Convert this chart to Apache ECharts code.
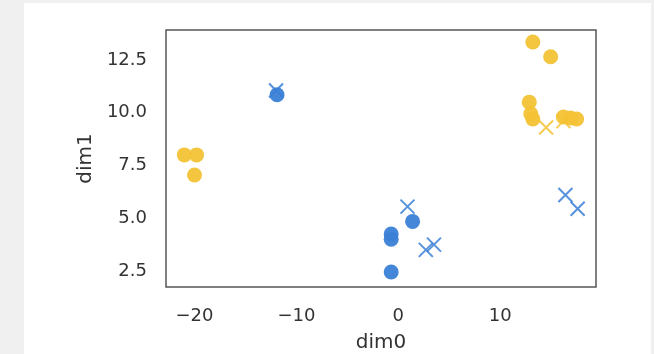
<!DOCTYPE html>
<html><head><meta charset="utf-8">
<script src="https://cdn.jsdelivr.net/npm/echarts@6/dist/echarts.min.js"></script>
<style>html,body{margin:0;padding:0;background:#f0f0f0;}#c{width:654px;height:354px;}</style>
</head><body><div id="c"></div>
<script>
var xTicks = [-20, -10, 0, 10];
var yTicks = [2.5, 5.0, 7.5, 10.0, 12.5];
var yellowCircles = [[-21.0,8.0],[-19.8,8.0],[-20.0,7.05],[13.2,13.35],[14.95,12.65],[12.85,10.5],[13.0,9.95],[13.2,9.7],[16.2,9.8],[16.9,9.75],[17.5,9.7]];
var yellowCrosses = [[14.5,9.3],[16.2,9.6]];
var blueCircles = [[-11.9,10.85],[-0.7,4.25],[-0.7,4.0],[-0.7,2.45],[1.4,4.85]];
var blueCrosses = [[-12.0,11.05],[0.9,5.55],[2.7,3.5],[3.5,3.75],[16.4,6.1],[17.6,5.45]];

var BLUE = '#3a7fd6', YELLOW = '#f3c234';
var FONT = 'DejaVu Sans';
var cross = 'path://M0,0L10,10M10,0L0,10';
var chart = echarts.init(document.getElementById('c'), null, {renderer:'canvas'});
chart.setOption({
  animation:false,
  backgroundColor:'transparent',
  graphic:[{type:'rect', z:-10, shape:{x:24,y:3,width:627,height:351}, style:{fill:'#ffffff'}}],
  grid:{left:166, right:58, top:30, bottom:67, containLabel:false, outerBoundsMode:'none', show:true, borderColor:'#555555', borderWidth:1.5, backgroundColor:'#ffffff'},
  xAxis:{type:'value', min:-22.8, max:19.4, minInterval:10, maxInterval:10,
    name:'dim0', nameLocation:'middle', nameGap:46,
    nameTextStyle:{fontFamily:FONT, fontSize:20, color:'#333'},
    axisLine:{show:false}, axisTick:{show:false}, splitLine:{show:false},
    axisLabel:{showMinLabel:false, showMaxLabel:false, margin:20, fontFamily:FONT, fontSize:18, color:'#333',
      formatter:function(v){ return xTicks.indexOf(v)>=0 ? String(v).replace('-','\u2212') : ''; }}},
  yAxis:{type:'value', min:1.74, max:13.92, minInterval:2.5, maxInterval:2.5,
    name:'dim1', nameLocation:'middle', nameGap:70, nameRotate:90,
    nameTextStyle:{fontFamily:FONT, fontSize:20, color:'#333'},
    axisLine:{show:false}, axisTick:{show:false}, splitLine:{show:false},
    axisLabel:{showMinLabel:false, showMaxLabel:false, margin:19, fontFamily:FONT, fontSize:18, color:'#333',
      formatter:function(v){ for(var i=0;i<yTicks.length;i++){ if(Math.abs(yTicks[i]-v)<1e-6) return yTicks[i].toFixed(1);} return ''; }}},
  series:[
    {type:'scatter', data:blueCrosses, symbol:cross, symbolSize:14, itemStyle:{color:'none', borderColor:BLUE, borderWidth:2, opacity:0.85}},
    {type:'scatter', data:yellowCrosses, symbol:cross, symbolSize:14, itemStyle:{color:'none', borderColor:YELLOW, borderWidth:2, opacity:0.85}},
    {type:'scatter', data:blueCircles, symbol:'circle', symbolSize:15, itemStyle:{color:BLUE, opacity:0.95}},
    {type:'scatter', data:yellowCircles, symbol:'circle', symbolSize:15, itemStyle:{color:YELLOW, opacity:0.95}}
  ]
});
</script></body></html>
